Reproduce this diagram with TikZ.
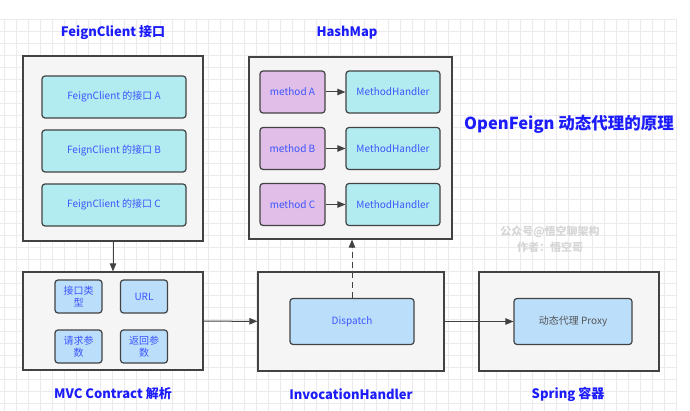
\documentclass[tikz,border=0pt]{standalone}
\usepackage{fontspec}
\setmainfont{Noto Sans CJK SC}
\usetikzlibrary{arrows.meta, positioning}

\definecolor{titleblue}{RGB}{28,28,250}
\definecolor{textblue}{RGB}{60,85,255}
\definecolor{edgegrey}{RGB}{66,66,66}
\definecolor{panelfill}{RGB}{245,245,246}
\definecolor{cyanfill}{RGB}{178,235,240}
\definecolor{purplefill}{RGB}{225,190,231}
\definecolor{bluefill}{RGB}{187,222,251}
\definecolor{gridline}{RGB}{234,234,239}
\definecolor{markgrey}{RGB}{214,214,214}

\tikzset{
  panel/.style={draw=edgegrey, line width=1.3pt, fill=panelfill, inner sep=0pt},
  item/.style={draw=edgegrey, line width=1.2pt, rounded corners=3pt,
    text=textblue, font=\fontsize{10}{12}\selectfont, align=center, inner sep=0pt},
  heading/.style={text=titleblue, font=\fontsize{13}{15}\selectfont\bfseries},
  link/.style={draw=edgegrey, line width=1pt, -{Triangle[length=8pt,width=6.5pt]}}
}

\begin{document}
\begin{tikzpicture}[x=1pt, y=-1pt]
  \useasboundingbox (0,0) rectangle (690,411);

  % background grid
  \foreach \gx in {4,16,...,676} {
    \draw[gridline, line width=0.7pt] (\gx,19) -- (\gx,411);
  }
  \foreach \gy in {19,31,...,411} {
    \draw[gridline, line width=0.7pt] (0,\gy) -- (677,\gy);
  }

  % FeignClient interfaces
  \node[panel, minimum width=180, minimum height=185] (feign) at (113,148.5) {};
  \node[item, fill=cyanfill, minimum width=144, minimum height=42] (ifaceA) at (114,97) {FeignClient 的接口 A};
  \node[item, fill=cyanfill, minimum width=144, minimum height=42] (ifaceB) at (114,151) {FeignClient 的接口 B};
  \node[item, fill=cyanfill, minimum width=144, minimum height=42] (ifaceC) at (114,205) {FeignClient 的接口 C};
  \node[heading] (feigntitle) at (113,33) {FeignClient 接口};

  % HashMap of handlers
  \node[panel, minimum width=203, minimum height=182] (hash) at (350.5,148) {};
  \foreach \m/\y in {A/92, B/148.5, C/204.5} {
    \node[item, fill=purplefill, minimum width=65, minimum height=42] (meth\m) at (292.5,\y) {method \m};
    \node[item, fill=cyanfill, minimum width=94, minimum height=42] (handler\m) at (393,\y) {MethodHandler};
    \draw[link] (meth\m) -- (handler\m);
  }
  \node[heading] (hashtitle) at (347,33) {HashMap};

  \node[text=titleblue, font=\fontsize{16.5}{19}\selectfont\bfseries] (maintitle) at (569,124) {OpenFeign 动态代理的原理};
  \node[text=markgrey, font=\fontsize{11}{16}\selectfont\bfseries, align=center] (mark) at (550,239) {公众号@悟空聊架构\\作者：悟空哥};

  % MVC Contract
  \node[panel, minimum width=180, minimum height=98] (mvc) at (113,321) {};
  \node[item, fill=bluefill, minimum width=47, minimum height=33] (ptype) at (78.5,296.5) {接口类\\型};
  \node[item, fill=bluefill, minimum width=47, minimum height=33] (purl) at (144,296.5) {URL};
  \node[item, fill=bluefill, minimum width=47, minimum height=33] (preq) at (78.5,346.5) {请求参\\数};
  \node[item, fill=bluefill, minimum width=47, minimum height=33] (pret) at (144,346.5) {返回参\\数};
  \node[heading] (mvctitle) at (113,394) {MVC Contract 解析};

  % InvocationHandler
  \node[panel, minimum width=186, minimum height=99] (invoke) at (351,321.5) {};
  \node[item, fill=bluefill, minimum width=124, minimum height=46] (dispatch) at (352,321.5) {Dispatch};
  \node[heading] (invoketitle) at (351,394) {InvocationHandler};

  % Spring container
  \node[panel, minimum width=180, minimum height=99] (spring) at (569,321.5) {};
  \node[item, fill=bluefill, text=edgegrey!90, minimum width=118, minimum height=46] (proxy) at (573,321.5) {动态代理 Proxy};
  \node[heading] (springtitle) at (568,394) {Spring 容器};

  % connectors
  \draw[link] (feign) -- (mvc);
  \draw[link] (mvc) -- (invoke);
  \draw[link] (invoke.east) -- (proxy.west);
  \draw[link, dashed, dash pattern=on 6pt off 4pt] (dispatch.north) -- (dispatch.north |- hash.south);
\end{tikzpicture}
\end{document}
